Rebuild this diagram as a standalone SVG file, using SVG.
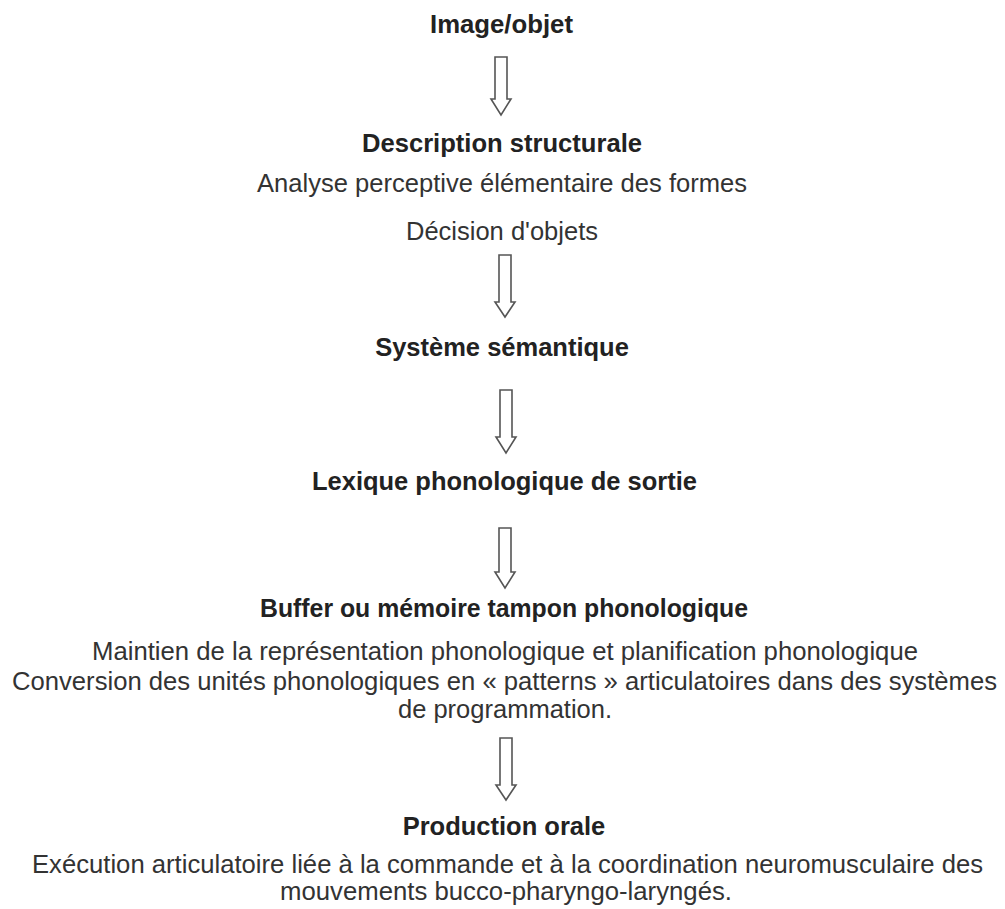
<svg xmlns="http://www.w3.org/2000/svg" width="1005" height="909" viewBox="0 0 1005 909">
<style>
.t{font-family:"Liberation Sans",Arial,sans-serif;font-size:25.5px;text-anchor:middle}
.b{font-weight:bold;fill:#222}
.r{fill:#333}
.arr{fill:#fff;stroke:#555;stroke-width:1.6;stroke-linejoin:miter}
</style>
<rect width="1005" height="909" fill="#fff"/>
<g id="n1"><text class="t b" x="501.5" y="33" textLength="143" lengthAdjust="spacingAndGlyphs">Image/objet</text></g>
<g id="n2">
<text class="t b" x="502" y="152" textLength="280" lengthAdjust="spacingAndGlyphs">Description structurale</text>
<text class="t r" x="502" y="192" textLength="490" lengthAdjust="spacingAndGlyphs">Analyse perceptive élémentaire des formes</text>
<text class="t r" x="502" y="240" textLength="192" lengthAdjust="spacingAndGlyphs">Décision d'objets</text>
</g>
<g id="n3"><text class="t b" x="502" y="356">Système sémantique</text></g>
<g id="n4"><text class="t b" x="504.5" y="490" textLength="385" lengthAdjust="spacingAndGlyphs">Lexique phonologique de sortie</text></g>
<g id="n5">
<text class="t b" x="504" y="617" textLength="488" lengthAdjust="spacingAndGlyphs">Buffer ou mémoire tampon phonologique</text>
<text class="t r" x="505" y="660" textLength="826" lengthAdjust="spacingAndGlyphs">Maintien de la représentation phonologique et planification phonologique</text>
<text class="t r" x="504.5" y="690" textLength="985" lengthAdjust="spacingAndGlyphs">Conversion des unités phonologiques en « patterns » articulatoires dans des systèmes</text>
<text class="t r" x="505" y="718">de programmation.</text>
</g>
<g id="n6">
<text class="t b" x="504" y="835">Production orale</text>
<text class="t r" x="507.5" y="873" textLength="951" lengthAdjust="spacingAndGlyphs">Exécution articulatoire liée à la commande et à la coordination neuromusculaire des</text>
<text class="t r" x="506" y="900" textLength="452" lengthAdjust="spacingAndGlyphs">mouvements bucco-pharyngo-laryngés.</text>
</g>
<g id="connectors">
<path class="arr" d="M495,57 H507 V99 H511 L501,115 L491,99 H495 Z"/>
<path class="arr" d="M499,255 H511 V302 H515 L505,317 L495,302 H499 Z"/>
<path class="arr" d="M500,390 H512 V437 H516 L506,453 L496,437 H500 Z"/>
<path class="arr" d="M499,528 H511 V572 H515 L505,588 L495,572 H499 Z"/>
<path class="arr" d="M500,738 H512 V785 H516 L506,800 L496,785 H500 Z"/>
</g>
</svg>
